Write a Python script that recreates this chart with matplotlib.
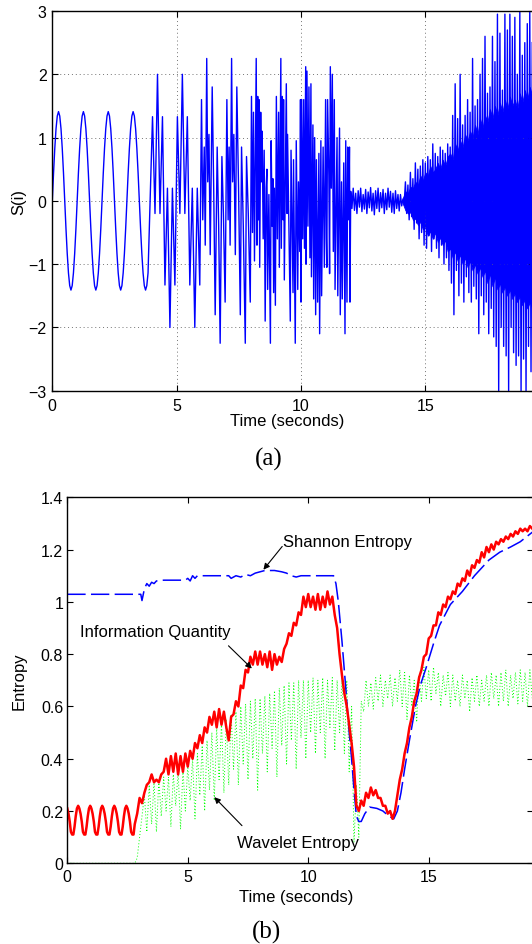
import numpy as np
import matplotlib
matplotlib.use("Agg")
import matplotlib.pyplot as plt
from matplotlib.ticker import FuncFormatter

plt.rcParams['font.family'] = ['Liberation Sans', 'DejaVu Sans']

# ======================= panel (a) data : S(i) =======================
# smooth sine segment, 0.05 s steps starting at 0 s
sine_t0, sine_dt = 0.0, 0.05
sine_vals = [0.00, 0.44, 0.83, 1.14, 1.34, 1.41, 1.34, 1.14, 0.83, 0.44,
             0.00, -0.44, -0.83, -1.14, -1.34, -1.41, -1.34, -1.14, -0.83, -0.44,
             0.00, 0.44, 0.83, 1.14, 1.34, 1.41, 1.34, 1.14, 0.83, 0.44,
             0.00, -0.44, -0.83, -1.14, -1.34, -1.41, -1.34, -1.14, -0.83, -0.44,
             0.00, 0.44, 0.83, 1.14, 1.34, 1.41, 1.34, 1.14, 0.83, 0.44,
             0.00, -0.44, -0.83, -1.14, -1.34, -1.41, -1.34, -1.14, -0.83, -0.44,
             0.00, 0.44, 0.83, 1.14, 1.34, 1.41, 1.34, 1.14, 0.83, 0.44,
             0.00, -0.44, -0.83, -1.14, -1.34, -1.41, -1.34, -1.14]
# sparse segment (4-6 s), 0.1 s steps starting at 4.03 s
sparse_t0, sparse_dt = 4.03, 0.1
sparse_vals = [1.33, -0.2, 2.0, -0.2, 1.33, -1.33, 0.2, -2.0, 0.2, -1.33,
               1.33, -0.2, 2.0, -0.2, 1.33, -1.33, 0.2, -2.0, 0.2, -1.33]
# burst segment (6-12 s), (time, value)
burst = [(6.00, 1.6), (6.05, -0.3), (6.11, 0.85), (6.15, -0.7), (6.21, 2.25), (6.25, 0.3),
         (6.30, 1.05), (6.35, -0.85), (6.43, 1.8), (6.49, 0.2), (6.55, -1.8), (6.63, 0.85),
         (6.69, -0.4), (6.75, -2.25), (6.82, 0.7), (6.88, -0.2), (6.95, -1.6),
         (7.02, 1.6), (7.07, -0.3), (7.11, 0.85), (7.15, -0.7), (7.21, 2.25), (7.25, 0.3),
         (7.30, 1.05), (7.36, -0.85), (7.42, 1.8), (7.49, 0.2), (7.56, -1.8), (7.61, 0.85),
         (7.68, -0.4), (7.76, -2.25), (7.81, 0.7), (7.88, -0.2), (7.96, -1.6),
         (8.01, 1.65), (8.05, -0.5), (8.09, 1.4), (8.13, -0.95), (8.20, 2.25), (8.23, -0.7),
         (8.26, 1.65), (8.29, -0.3), (8.31, 1.6), (8.34, -1.05), (8.38, 1.4), (8.41, 0.3),
         (8.44, 1.1), (8.48, -0.6), (8.52, 0.8), (8.56, -1.9), (8.60, 0.2), (8.63, 0.5),
         (8.66, -1.4), (8.71, 0.1), (8.77, -2.25), (8.80, 0.95), (8.84, -0.4), (8.87, 0.35),
         (8.90, -1.45), (8.93, 0.2), (8.97, -1.65),
         (9.01, 1.65), (9.05, -0.6), (9.10, 1.4), (9.13, -1.05), (9.19, 2.25), (9.21, -0.75),
         (9.25, 1.65), (9.28, -0.3), (9.30, 1.6), (9.33, -1.25), (9.41, 1.85), (9.44, -0.2),
         (9.46, 1.05), (9.52, -0.5), (9.57, -1.9), (9.60, 0.8), (9.64, -0.3), (9.68, -1.45),
         (9.70, 0.65), (9.77, -2.25), (9.81, 0.95), (9.87, -1.4), (9.90, 0.3), (9.95, -0.8),
         (9.98, 1.6),
         (10.00, -1.6), (10.03, 1.6), (10.07, -0.6), (10.11, 1.6), (10.14, -0.75), (10.19, 2.12),
         (10.21, -1.0), (10.24, 2.05), (10.28, -0.4), (10.32, 1.8), (10.36, -0.9), (10.40, 1.85),
         (10.42, -1.2), (10.48, 1.2), (10.51, -1.55), (10.55, 1.0), (10.59, -1.8), (10.62, 0.65),
         (10.67, -1.6), (10.72, 0.75), (10.75, -2.1), (10.80, 0.95), (10.83, -1.5), (10.89, 0.85),
         (10.94, -1.05), (10.99, 1.6),
         (11.02, -0.6), (11.04, -1.05), (11.07, 1.6), (11.12, 0.4), (11.15, -1.15), (11.18, 2.12),
         (11.22, 0.2), (11.26, 2.0), (11.30, -0.8), (11.34, 1.6), (11.37, -1.4), (11.45, 1.0),
         (11.48, -1.5), (11.55, 1.15), (11.58, -1.8), (11.63, 0.3), (11.66, -1.55), (11.72, 0.6),
         (11.77, -2.1), (11.80, 0.95), (11.85, -1.6), (11.88, 0.85), (11.92, -0.3), (11.95, 0.85),
         (11.97, -1.6)]
# quiet segment (12-14.15 s), 0.05 s steps starting at 12.0 s
quiet_t0, quiet_dt = 12.0, 0.05
quiet_vals = [0.15, -0.12, 0.2, -0.15, 0.12, -0.2, 0.16, -0.1, 0.2, -0.17,
              0.1, -0.13, 0.18, -0.2, 0.14, -0.11, 0.21, -0.16, 0.12, -0.22,
              0.16, -0.12, 0.2, -0.17, 0.13, -0.11, 0.18, -0.2, 0.12, -0.14,
              0.2, -0.1, 0.15, -0.18, 0.12, -0.2, 0.16, -0.12, 0.1, -0.16,
              0.1, -0.08, 0.03, -0.05]
# growing segment (14.2-19.3 s), 0.05 s steps starting at 14.2 s
grow_t0, grow_dt = 14.2, 0.05
grow_vals = [0.3, -0.2, 0.25, -0.3, 0.45, -0.25, 0.35, -0.45, 0.6, -0.35,
             0.5, -0.6, 0.55, -0.5, 0.65, -0.7, 0.6, -0.75, 0.7, -0.55,
             0.65, -0.8, 0.9, -0.6, 0.75, -0.75, 0.7, -0.9, 0.85, -0.7,
             0.8, -1.0, 0.75, -0.9, 0.9, -1.1, 0.85, -1.3, 1.35, -1.8,
             1.85, -1.1, 1.3, -1.5, 2.0, -1.3, 1.2, -1.6, 1.35, -1.2,
             1.6, -1.45, 1.4, -1.6, 2.25, -1.35, 1.5, -1.55, 1.6, -2.1,
             2.0, -1.5, 2.25, -1.8, 2.6, -1.6, 1.7, -2.1, 1.8, -1.7,
             2.6, -2.15, 2.2, -2.3, 2.95, -3.0, 2.65, -2.0, 1.75, -2.3,
             2.95, -2.45, 2.7, -3.0, 2.95, -2.0, 2.6, -2.4, 2.9, -2.6,
             2.0, -2.45, 3.0, -3.0, 2.3, -2.5, 2.5, -3.0, 2.8, -2.3,
             3.0, -2.7, 2.5]
# dense core of the growing segment, 0.1 s steps from 14.1 s
core_t0, core_dt = 14.1, 0.1
core_hi = [0.05, 0.15, 0.12, 0.22, 0.2, 0.3, 0.25, 0.4, 0.32, 0.45,
           0.4, 0.55, 0.45, 0.5, 0.6, 0.5, 0.65, 0.55, 0.7, 0.75,
           0.65, 0.9, 0.8, 0.95, 0.85, 1.05, 0.95, 1.1, 1.0, 1.2,
           1.05, 1.3, 1.15, 1.35, 1.25, 1.45, 1.3, 1.5, 1.35, 1.55,
           1.4, 1.6, 1.45, 1.65, 1.5, 1.6, 1.45, 1.7, 1.55, 1.75,
           1.6, 1.8, 1.65]
core_lo = [-0.05, -0.15, -0.2, -0.18, -0.3, -0.28, -0.38, -0.33, -0.45, -0.42,
           -0.55, -0.48, -0.6, -0.5, -0.65, -0.58, -0.7, -0.62, -0.8, -0.75,
           -0.9, -0.8, -0.95, -0.85, -1.0, -0.9, -1.05, -0.95, -1.1, -1.0,
           -1.15, -1.05, -1.2, -1.1, -1.3, -1.15, -1.35, -1.2, -1.4, -1.3,
           -1.45, -1.35, -1.5, -1.4, -1.55, -1.45, -1.6, -1.5, -1.65, -1.55,
           -1.7, -1.6, -1.7]

# ======================= panel (b) data : entropies =======================
# Information Quantity: 0.05 s steps from 0 to 2.75 s, then 0.1 s steps from 2.8 s
iq1_t0, iq1_dt = 0.0, 0.05
iq1_vals = [0.21, 0.19, 0.16, 0.12, 0.11, 0.11, 0.14, 0.18, 0.21, 0.22,
            0.21, 0.19, 0.16, 0.12, 0.11, 0.11, 0.14, 0.18, 0.21, 0.22,
            0.21, 0.19, 0.16, 0.12, 0.11, 0.11, 0.14, 0.18, 0.21, 0.22,
            0.21, 0.19, 0.16, 0.12, 0.11, 0.11, 0.14, 0.18, 0.21, 0.22,
            0.21, 0.19, 0.16, 0.12, 0.11, 0.11, 0.14, 0.18, 0.21, 0.22,
            0.21, 0.19, 0.16, 0.12, 0.11, 0.11]
iq2_t0, iq2_dt = 2.8, 0.1
iq2_vals = [0.15, 0.19,
            0.25, 0.23, 0.27, 0.3, 0.31, 0.34, 0.31, 0.32, 0.31, 0.34,
            0.35, 0.4, 0.34, 0.41, 0.35, 0.42, 0.34, 0.41, 0.35, 0.42,
            0.37, 0.43, 0.4, 0.46, 0.44, 0.49, 0.46, 0.52, 0.5, 0.56,
            0.53, 0.58, 0.52, 0.59, 0.53, 0.58, 0.52, 0.47, 0.56, 0.57,
            0.62, 0.6, 0.68, 0.67, 0.74, 0.73, 0.79, 0.76, 0.81, 0.76,
            0.81, 0.76, 0.8, 0.75, 0.81, 0.74, 0.8, 0.76, 0.79, 0.77,
            0.82, 0.84, 0.88, 0.87, 0.92, 0.91, 0.96, 0.95, 1.02, 0.98,
            1.03, 0.98, 1.02, 0.97, 1.03, 0.97, 1.02, 0.98, 1.04, 0.99,
            1.02, 0.95, 0.9, 0.8, 0.72, 0.65, 0.6, 0.53, 0.46, 0.37,
            0.22, 0.2, 0.24, 0.22, 0.27, 0.25, 0.29, 0.26, 0.28, 0.25,
            0.25, 0.22, 0.22, 0.19, 0.2, 0.17, 0.2, 0.26, 0.32, 0.36,
            0.42, 0.46, 0.52, 0.56, 0.62, 0.65, 0.71, 0.74, 0.79, 0.8,
            0.86, 0.87, 0.91, 0.91, 0.96, 0.95, 0.99, 0.98, 1.02, 1.01,
            1.04, 1.03, 1.07, 1.06, 1.09, 1.08, 1.12, 1.1, 1.14, 1.13,
            1.16, 1.15, 1.19, 1.17, 1.21, 1.19, 1.22, 1.2, 1.23, 1.22,
            1.24, 1.23, 1.25, 1.24, 1.26, 1.25, 1.27, 1.26, 1.28, 1.27,
            1.28, 1.27, 1.29, 1.28]
# Shannon Entropy (time, value)
shannon = [(0.0, 1.029), (3.05, 1.029), (3.1, 1.005), (3.2, 1.05), (3.3, 1.07), (3.4, 1.06),
           (3.5, 1.075), (3.6, 1.07), (3.7, 1.08), (4.0, 1.083), (4.5, 1.083), (4.9, 1.083),
           (5.0, 1.09), (5.1, 1.08), (5.2, 1.1), (5.3, 1.09), (5.4, 1.1), (5.5, 1.1),
           (6.0, 1.1), (6.5, 1.1), (6.7, 1.1), (6.8, 1.09), (7.0, 1.1), (7.2, 1.095),
           (7.4, 1.105), (7.6, 1.1), (7.8, 1.11), (8.0, 1.115), (8.2, 1.12), (8.6, 1.12),
           (8.9, 1.115), (9.1, 1.11), (9.3, 1.1), (9.5, 1.095), (9.7, 1.1), (10.0, 1.1),
           (10.5, 1.1), (11.05, 1.1), (11.15, 1.07), (11.25, 1.0), (11.4, 0.85), (11.55, 0.68),
           (11.7, 0.5), (11.8, 0.4), (11.9, 0.28), (12.0, 0.18), (12.1, 0.16), (12.2, 0.16),
           (12.35, 0.19), (12.55, 0.215), (12.85, 0.21), (13.1, 0.2), (13.35, 0.18),
           (13.55, 0.17), (13.7, 0.2), (13.85, 0.27), (14.0, 0.36), (14.2, 0.47),
           (14.45, 0.6), (14.65, 0.68), (14.9, 0.75), (15.2, 0.84), (15.45, 0.91),
           (15.9, 0.99), (16.4, 1.04), (16.9, 1.1), (17.5, 1.16), (17.95, 1.19),
           (18.4, 1.21), (18.8, 1.23), (19.35, 1.27)]
# Wavelet Entropy, 0.1 s steps from 0 s
we_t0, we_dt = 0.0, 0.1
we_vals = [0, 0, 0, 0, 0, 0, 0, 0, 0, 0,
           0, 0, 0, 0, 0, 0, 0, 0, 0, 0,
           0, 0, 0, 0, 0, 0, 0, 0, 0, 0.02,
           0.1, 0.18, 0.26, 0.12, 0.3, 0.15, 0.31, 0.12, 0.32, 0.18,
           0.33, 0.2, 0.33, 0.14, 0.34, 0.22, 0.35, 0.13, 0.36, 0.2,
           0.37, 0.24, 0.4, 0.17, 0.42, 0.26, 0.45, 0.2, 0.47, 0.28,
           0.5, 0.24, 0.52, 0.32, 0.54, 0.27, 0.55, 0.3, 0.57, 0.36,
           0.58, 0.3, 0.6, 0.38, 0.61, 0.32, 0.62, 0.4, 0.63, 0.28,
           0.63, 0.42, 0.64, 0.35, 0.65, 0.44, 0.66, 0.33, 0.67, 0.45,
           0.68, 0.38, 0.69, 0.47, 0.69, 0.36, 0.7, 0.48, 0.7, 0.4,
           0.7, 0.5, 0.71, 0.42, 0.7, 0.5, 0.71, 0.4, 0.7, 0.52,
           0.71, 0.43, 0.7, 0.5, 0.71, 0.42, 0.7, 0.35, 0.6, 0.08,
           0.3, 0.1, 0.62, 0.58, 0.7, 0.6, 0.69, 0.59, 0.71, 0.62,
           0.72, 0.6, 0.7, 0.63, 0.72, 0.6, 0.71, 0.62, 0.74, 0.6,
           0.73, 0.55, 0.72, 0.6, 0.7, 0.54, 0.72, 0.62, 0.75, 0.63,
           0.74, 0.62, 0.75, 0.65, 0.73, 0.6, 0.72, 0.64, 0.73, 0.6,
           0.72, 0.62, 0.7, 0.6, 0.72, 0.63, 0.7, 0.58, 0.71, 0.62,
           0.72, 0.6, 0.7, 0.62, 0.72, 0.6, 0.73, 0.63, 0.72, 0.6,
           0.73, 0.62, 0.74, 0.6, 0.72, 0.63, 0.73, 0.61, 0.74, 0.62,
           0.73, 0.6, 0.74, 0.63]

xticks = [0, 5, 10, 15]
yticks_a = [-3, -2, -1, 0, 1, 2, 3]
yticks_b = [0, 0.2, 0.4, 0.6, 0.8, 1.0, 1.2, 1.4]
XMAX = 19.35

# ======================= figure =======================
W, H = 532, 945
fig = plt.figure(figsize=(W / 100, H / 100), dpi=100)


def px_axes(l, t, r, b):
    return [l / W, 1 - b / H, (r - l) / W, (b - t) / H]


def uniform(t0, dt, vals):
    return t0 + dt * np.arange(len(vals)), np.asarray(vals, float)


BLUE = (0, 0, 1)
FS_TICK = 11.5
FS_LAB = 12

# ---------- panel (a) ----------
ax1 = fig.add_axes(px_axes(52.3, 12, 533.5, 391.7))
ta, va = uniform(sine_t0, sine_dt, sine_vals)
tb, vb = uniform(sparse_t0, sparse_dt, sparse_vals)
tc = np.array([p[0] for p in burst]); vc = np.array([p[1] for p in burst])
td, vd = uniform(quiet_t0, quiet_dt, quiet_vals)
te, ve = uniform(grow_t0, grow_dt, grow_vals)
sig_t = np.concatenate([ta, tb, tc, td, te])
sig_v = np.concatenate([va, vb, vc, vd, ve])
ct, chi = uniform(core_t0, core_dt, core_hi)
_, clo = uniform(core_t0, core_dt, core_lo)
ax1.fill_between(ct, clo, chi, color=BLUE, lw=0.6, edgecolor=BLUE)
ax1.plot(sig_t, sig_v, color=BLUE, lw=1.0)
ax1.set_xlim(0, XMAX)
ax1.set_ylim(-3, 3)
ax1.set_xticks(xticks)
ax1.set_yticks(yticks_a)
ax1.grid(True, color='0.45', linestyle=(0, (1, 3)), lw=0.7)
ax1.tick_params(direction='in', length=4, width=0.8, top=True, right=True,
                labelsize=FS_TICK)
ax1.tick_params(axis='x', pad=5)
ax1.tick_params(axis='y', pad=4)
for s in ax1.spines.values():
    s.set_linewidth(1.0)
ax1.set_xlabel('Time (seconds)', fontsize=FS_LAB, va='center')
ax1.xaxis.set_label_coords(0.4888, -0.079)
ax1.set_ylabel('S(i)', fontsize=FS_LAB, va='center')
ax1.yaxis.set_label_coords(-0.0692, 0.5)

# ---------- panel (b) ----------
ax2 = fig.add_axes(px_axes(67.3, 498.3, 533.5, 864.3))
t1, v1 = uniform(iq1_t0, iq1_dt, iq1_vals)
t2, v2 = uniform(iq2_t0, iq2_dt, iq2_vals)
iq_t = np.concatenate([t1, t2]); iq_v = np.concatenate([v1, v2])
sh_t = [p[0] for p in shannon]; sh_v = [p[1] for p in shannon]
we_t, we_v = uniform(we_t0, we_dt, we_vals)
ax2.plot(we_t, we_v, color=(0, 1, 0), lw=0.7, linestyle=(0, (1, 2.2)))
ax2.plot(sh_t, sh_v, color=BLUE, lw=1.1, linestyle=(0, (12, 3.5)))
ax2.plot(iq_t, iq_v, color=(1, 0, 0), lw=1.8)
ax2.set_xlim(0, XMAX)
ax2.set_ylim(0, 1.4)
ax2.set_xticks(xticks)
ax2.set_yticks(yticks_b)
ax2.yaxis.set_major_formatter(FuncFormatter(lambda v, p: '%g' % v))
ax2.tick_params(direction='in', length=4, width=0.8, top=True, right=True,
                labelsize=FS_TICK)
ax2.tick_params(axis='x', pad=4)
ax2.tick_params(axis='y', pad=3)
for s in ax2.spines.values():
    s.set_linewidth(1.0)
ax2.set_xlabel('Time (seconds)', fontsize=FS_LAB, va='center')
ax2.xaxis.set_label_coords(0.491, -0.092)
ax2.set_ylabel('Entropy', fontsize=FS_LAB, va='center')
ax2.yaxis.set_label_coords(-0.1036, 0.5)

arrow_kw = dict(arrowstyle='-|>', color='k', lw=0.8, mutation_scale=9,
                shrinkA=0, shrinkB=0)
ax2.text(8.97, 1.23, 'Shannon Entropy', fontsize=FS_LAB, ha='left', va='center')
ax2.annotate('', xy=(8.14, 1.123), xytext=(8.92, 1.212), arrowprops=arrow_kw)
ax2.text(0.53, 0.887, 'Information Quantity', fontsize=FS_LAB, ha='left', va='center')
ax2.annotate('', xy=(7.66, 0.745), xytext=(6.69, 0.832), arrowprops=arrow_kw)
ax2.text(7.06, 0.078, 'Wavelet Entropy', fontsize=FS_LAB, ha='left', va='center')
ax2.annotate('', xy=(6.1, 0.253), xytext=(7.25, 0.144), arrowprops=arrow_kw)

fig.text(268.3 / W, 1 - 459 / H, '(a)', family='Liberation Serif', fontsize=18,
         ha='center', va='center')
fig.text(266.7 / W, 1 - 932 / H, '(b)', family='Liberation Serif', fontsize=18,
         ha='center', va='center')

fig.savefig('out.png', dpi=100)
